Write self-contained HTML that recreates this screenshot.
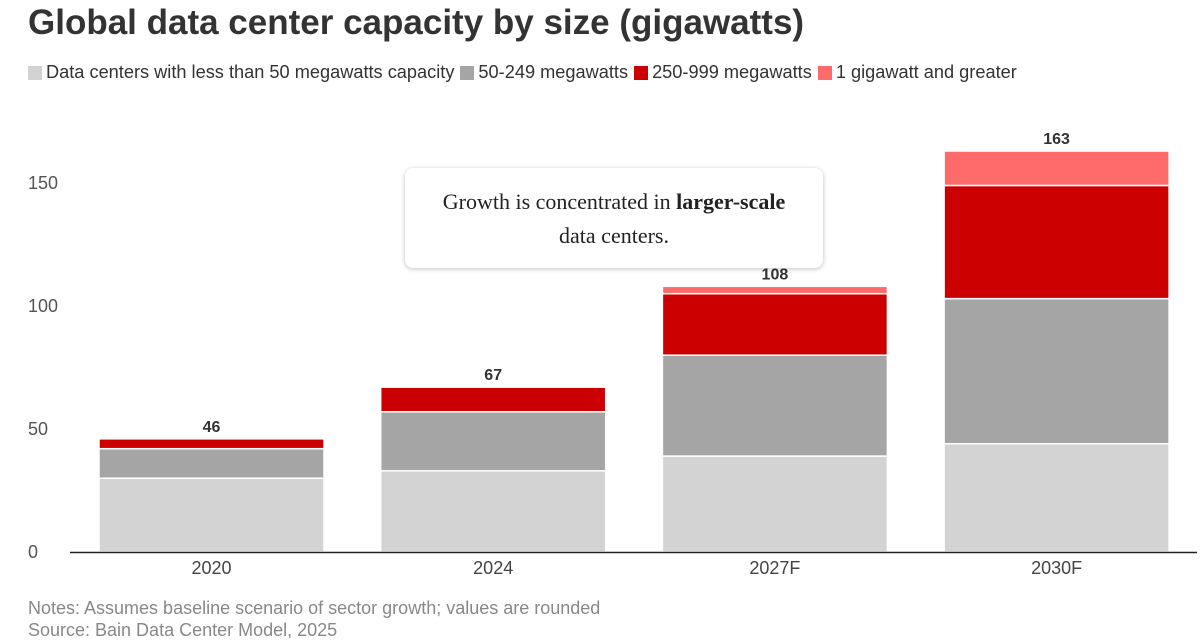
<!DOCTYPE html>
<html><head><meta charset="utf-8">
<style>
body{margin:0;width:1200px;height:642px;background:#fff;font-family:"Liberation Sans",sans-serif;overflow:hidden;position:relative}
#title{position:absolute;left:28px;top:3px;font-size:35px;font-weight:bold;color:#333;margin:0}
#legend{position:absolute;left:28px;top:62px;font-size:18.2px;color:#333;display:flex;gap:0}
.le{display:flex;align-items:center;margin-right:6px}
.sw{width:14px;height:14px;margin-right:4px}
#note{position:absolute;left:28px;top:597px;font-size:18px;color:#888;line-height:22px}
#anno{position:absolute;left:405px;top:168px;width:418px;height:100px;background:#fff;border-radius:8px;box-shadow:0 1px 5px rgba(0,0,0,0.25);font-family:"Liberation Serif",serif;font-size:22px;color:#222;text-align:center;line-height:34px;padding-top:17px;box-sizing:border-box}
</style></head><body>
<h1 id="title">Global data center capacity by size (gigawatts)</h1>
<div id="legend">
<div class="le"><div class="sw" style="background:#d3d3d3"></div>Data centers with less than 50 megawatts capacity</div>
<div class="le"><div class="sw" style="background:#a5a5a5"></div>50-249 megawatts</div>
<div class="le"><div class="sw" style="background:#cc0000"></div>250-999 megawatts</div>
<div class="le"><div class="sw" style="background:#ff6b6b"></div>1 gigawatt and greater</div>
</div>
<svg id="chart" width="1200" height="642" style="position:absolute;left:0;top:0"></svg>
<div id="anno">Growth is concentrated in <b>larger-scale</b><br>data centers.</div>
<div id="note">Notes: Assumes baseline scenario of sector growth; values are rounded<br>Source: Bain Data Center Model, 2025</div>
<script>
const categories=["2020","2024","2027F","2030F"];
const small=[30,33,39,44];
const mid=[12,24,41,59];
const large=[4,10,25,46];
const giga=[0,0,3,14];
const totals=["46","67","108","163"];
const yTicks=[0,50,100,150];
const series=[small,mid,large,giga];
const seriesNames=["small","mid","large","giga"];
const colors=["#d3d3d3","#a5a5a5","#cc0000","#ff6b6b"];
const svg=document.getElementById('chart');
const NS="http://www.w3.org/2000/svg";
const y=v=>552-v*2.46;
const bandX=i=>99+i*281.7;
const bw=225;
function mk(t,a){const e=document.createElementNS(NS,t);for(const k in a)e.setAttribute(k,a[k]);svg.appendChild(e);return e;}
yTicks.forEach(t=>{
const tx=mk('text',{x:28,y:y(t)+6,'font-size':18,fill:'#555','font-family':'Liberation Sans'});


tx.textContent=t;});
categories.forEach((c,i)=>{
let base=0;
series.forEach((s,k)=>{
if(s[i]<=0)return;
const r=mk('rect',{x:bandX(i),y:y(base+s[i]),width:bw,height:s[i]*2.46,fill:colors[k],stroke:'#fff','stroke-width':1.5});


base+=s[i];});
const tl=mk('text',{x:bandX(i)+bw/2,y:y(base)-7,'font-size':16,'font-weight':'bold',fill:'#333','text-anchor':'middle','font-family':'Liberation Sans'});


tl.textContent=totals[i];
const xl=mk('text',{x:bandX(i)+bw/2,y:574,'font-size':18,fill:'#444','text-anchor':'middle','font-family':'Liberation Sans'});


xl.textContent=c;});
const ax=mk('line',{x1:70,x2:1197,y1:552.5,y2:552.5,stroke:'#222','stroke-width':1.5});


</script>
</body></html>
